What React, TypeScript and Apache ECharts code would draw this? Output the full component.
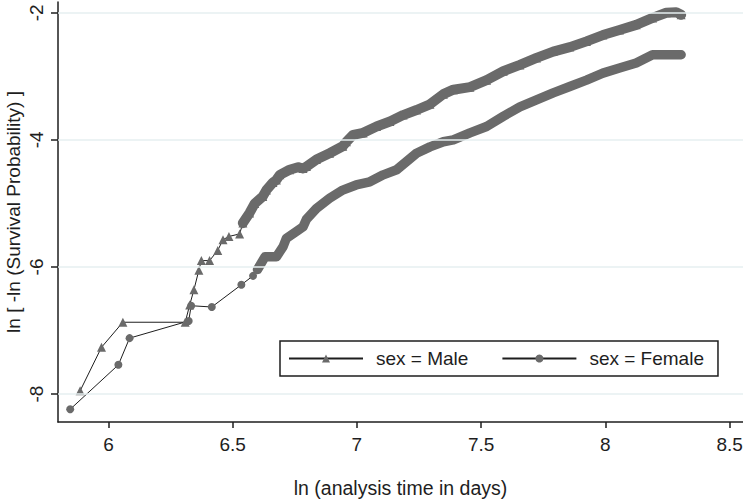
import React, { useEffect, useRef } from "react";
import * as echarts from "echarts";

// ln(analysis time in days) and ln[-ln(S)]
const maleX = [
  5.886, 5.972, 6.058, 6.309, 6.327, 6.344, 6.364, 6.374, 6.407, 6.44, 6.461, 6.485, 6.528,
  6.541, 6.568, 6.589, 6.621, 6.636, 6.662, 6.676, 6.69, 6.729, 6.763, 6.783, 6.797, 6.837,
  6.89, 6.943, 6.958, 6.985, 7.025, 7.079, 7.133, 7.186, 7.24, 7.294, 7.348, 7.388, 7.455,
  7.522, 7.589, 7.656, 7.723, 7.79, 7.857, 7.924, 7.99, 8.057, 8.124, 8.19, 8.245, 8.285,
  8.305,
];
const maleY = [
  -7.95, -7.265, -6.87, -6.87, -6.6, -6.36, -6.05, -5.9, -5.9, -5.74, -5.57, -5.52, -5.48,
  -5.31, -5.15, -5.0, -4.89, -4.79, -4.67, -4.63, -4.55, -4.47, -4.43, -4.45, -4.42, -4.31,
  -4.21, -4.1, -4.03, -3.92, -3.89, -3.79, -3.71, -3.61, -3.53, -3.44, -3.28, -3.21, -3.17,
  -3.06, -2.92, -2.82, -2.71, -2.61, -2.54, -2.45, -2.35, -2.27, -2.19, -2.08, -2.0, -1.99,
  -2.03,
];
const femaleX = [
  5.846, 6.04, 6.085, 6.323, 6.333, 6.416, 6.535, 6.582,
  6.6, 6.63, 6.676, 6.703, 6.716, 6.757, 6.783, 6.797, 6.837, 6.89, 6.943, 6.997, 7.052,
  7.106, 7.16, 7.2, 7.24, 7.294, 7.348, 7.388, 7.455, 7.522, 7.589, 7.656, 7.723, 7.79,
  7.857, 7.924, 7.99, 8.057, 8.124, 8.19, 8.245, 8.305,
];
const femaleY = [
  -8.24, -7.54, -7.12, -6.85, -6.61, -6.63, -6.28, -6.14,
  -6.04, -5.84, -5.84, -5.68, -5.55, -5.44, -5.37, -5.25, -5.08, -4.92, -4.79, -4.71, -4.66,
  -4.55, -4.47, -4.34, -4.21, -4.11, -4.03, -4.0, -3.89, -3.79, -3.63, -3.48, -3.37, -3.26,
  -3.16, -3.06, -2.95, -2.87, -2.79, -2.66, -2.66, -2.66,
];
// index where the marks become so dense that they merge into a band
const maleBandStart = 13;
const femaleBandStart = 8;

const xTicks = [6, 6.5, 7, 7.5, 8, 8.5];
const yTicks = [-8, -6, -4, -2];
const seriesNames = ["sex = Male", "sex = Female"];

const FONT = "'Liberation Sans', Arial, sans-serif";
const GRAY = "#6a6a6a";
const INK = "#1e1e1e";

export default function App() {
  const ref = useRef<HTMLDivElement>(null);
  useEffect(() => {
    if (!ref.current) return;
    const chart = echarts.init(ref.current, null, { renderer: "svg" });
    const male = maleX.map((x, i) => [x, maleY[i]]);
    const female = femaleX.map((x, i) => [x, femaleY[i]]);
    chart.setOption({
      animation: false,
      backgroundColor: "#ffffff",
      textStyle: { fontFamily: FONT },
      grid: { left: 58, top: 2, right: 0, bottom: 78, containLabel: false, outerBoundsMode: "none" },
      xAxis: {
        type: "value",
        min: 5.797,
        max: 8.554,
        name: "ln (analysis time in days)",
        nameLocation: "middle",
        nameGap: 56,
        nameMoveOverlap: false,
        nameTextStyle: { fontSize: 19.5, color: INK, fontFamily: FONT },
        axisLine: { show: true, onZero: false, lineStyle: { color: INK, width: 1.5 } },
        axisTick: { show: true, length: 6, customValues: xTicks, lineStyle: { color: INK, width: 1.5 } },
        axisLabel: { customValues: xTicks, fontSize: 19, color: INK, margin: 13, fontFamily: FONT },
        splitLine: { show: false },
      },
      yAxis: {
        type: "value",
        min: -8.44,
        max: -1.83,
        name: "ln [ -ln (Survival Probability) ]",
        nameLocation: "middle",
        nameRotate: 90,
        nameGap: 35,
        nameMoveOverlap: false,
        nameTextStyle: { fontSize: 19, color: INK, fontFamily: FONT },
        axisLine: { show: true, onZero: false, lineStyle: { color: INK, width: 1.5 } },
        axisTick: { show: true, length: 7, customValues: yTicks, lineStyle: { color: INK, width: 1.5 } },
        axisLabel: { customValues: yTicks, rotate: 90, fontSize: 19, color: INK, margin: 12, fontFamily: FONT },
        splitLine: { show: false },
      },
      legend: {
        data: seriesNames,
        left: 280,
        top: 341,
        orient: "horizontal",
        itemWidth: 74,
        itemHeight: 10,
        itemGap: 33,
        padding: [8, 14, 8, 8],
        borderColor: INK,
        borderWidth: 1.5,
        backgroundColor: "#ffffff",
        textStyle: { fontSize: 19, color: INK, fontFamily: FONT, padding: [0, 0, 0, 8] },
      },
      series: [
        {
          name: "grid",
          type: "line",
          data: [],
          z: 0,
          silent: true,
          markLine: {
            silent: true,
            symbol: "none",
            label: { show: false },
            lineStyle: { color: "#e6eff1", width: 1.5, type: "solid" },
            data: yTicks.map((v) => ({ yAxis: v })),
          },
        },
        {
          name: seriesNames[0],
          type: "line",
          data: male,
          symbol: "triangle",
          symbolSize: 9,
          showSymbol: true,
          showAllSymbol: true,
          itemStyle: { color: GRAY, borderWidth: 0 },
          lineStyle: { color: INK, width: 1 },
          z: 3,
        },
        {
          name: seriesNames[1],
          type: "line",
          data: female,
          symbol: "circle",
          symbolSize: 8,
          showSymbol: true,
          showAllSymbol: true,
          itemStyle: { color: GRAY, borderWidth: 0 },
          lineStyle: { color: INK, width: 1 },
          z: 3,
        },
        {
          name: "male band",
          type: "line",
          data: male.slice(maleBandStart),
          symbol: "none",
          lineStyle: { color: GRAY, width: 10, cap: "round", join: "round" },
          z: 4,
          silent: true,
        },
        {
          name: "female band",
          type: "line",
          data: female.slice(femaleBandStart),
          symbol: "none",
          lineStyle: { color: GRAY, width: 9.5, cap: "round", join: "round" },
          z: 4,
          silent: true,
        },
      ],
    });
    return () => chart.dispose();
  }, []);
  return (
    <div
      ref={ref}
      style={{ position: "fixed", left: 0, top: 0, width: 743, height: 500, background: "#fff" }}
    />
  );
}
